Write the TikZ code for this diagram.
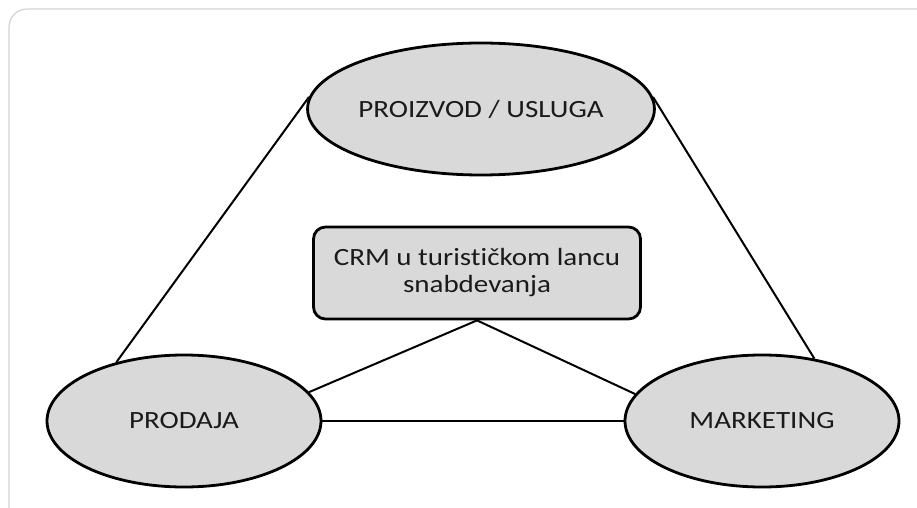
\documentclass[tikz,border=0pt]{standalone}
\usepackage{fontspec}
\setmainfont{Carlito}[FakeStretch=1.17, Ligatures=NoCommon]
\usetikzlibrary{shapes.geometric}
\definecolor{ovalfill}{HTML}{D9D9D9}
\definecolor{framegray}{HTML}{D2D2D2}
\definecolor{textdark}{HTML}{1A1A1A}
\tikzset{
  oval/.style={ellipse, draw, line width=1.4pt, fill=ovalfill, text=textdark,
    minimum width=137pt, minimum height=66pt, inner sep=0pt,
    font=\fontsize{12.4}{13.5}\selectfont},
  crmbox/.style={rectangle, rounded corners=6pt, draw, line width=1.4pt, fill=ovalfill,
    text=textdark, minimum width=163.5pt, minimum height=46pt, align=center,
    font=\fontsize{12.4}{13.5}\selectfont},
  link/.style={line width=1pt}
}

\begin{document}
\begin{tikzpicture}[x=0.5pt, y=-0.5pt]
  \useasboundingbox (0,0) rectangle (917,508);
  % outer page frame
  \draw[framegray, line width=0.6pt, rounded corners=9pt] (9,508) -- (9,9) -- (917,9);
  % three ovals and the centre box
  \node[oval] (proizvod) at (481,109) {PROIZVOD / USLUGA};
  \node[oval] (prodaja) at (184,421) {PRODAJA};
  \node[oval] (marketing) at (762,421) {MARKETING};
  \node[crmbox] (crm) at (477,273) {CRM u turističkom lancu\\snabdevanja};
  % triangle sides
  \draw[link] (proizvod.176) -- (prodaja.139);
  \draw[link] (proizvod.4) -- (marketing.50);
  \draw[link] (prodaja.east) -- (marketing.west);
  % centre box to the bottom ovals
  \draw[link] (crm.south) -- (prodaja.13);
  \draw[link] (crm.south) -- (marketing.168);
\end{tikzpicture}
\end{document}
